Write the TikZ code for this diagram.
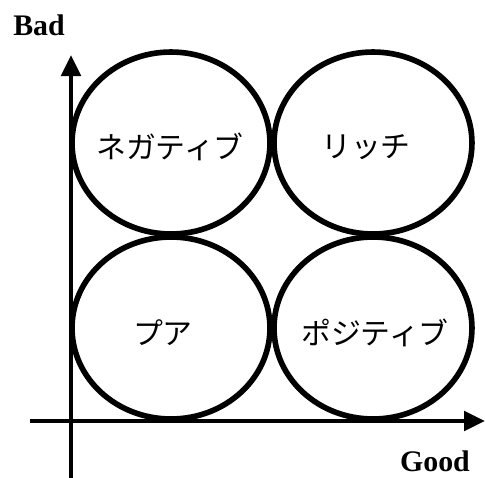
\documentclass[tikz,border=0pt]{standalone}
\usepackage{fontspec}
\setmainfont{Liberation Serif}
\newfontfamily\jpfont{Noto Sans CJK JP}
\usetikzlibrary{shapes.geometric, arrows.meta, positioning}

\begin{document}
\begin{tikzpicture}[
    x=0.02cm, y=-0.02cm,
    % Define styles
    quadrant/.style={
        draw=black,
        line width=3.2pt,
        ellipse,
        minimum width=3.96cm,
        minimum height=3.64cm,
        inner sep=0pt
    },
    qlabel/.style={
        font=\jpfont\fontsize{17}{19}\selectfont,
        text=black
    },
    axis/.style={
        -{Triangle[length=0.42cm, width=0.38cm]},
        line width=2.8pt,
        black
    },
    axislabel/.style={
        font=\fontsize{17}{20}\selectfont\bfseries,
        text=black
    }
]
\useasboundingbox (0,0) rectangle (485,478);

% ============================================================
% Quadrants
% ============================================================
\node[quadrant] (negative) at (171,143) {};
\node[quadrant] (rich) at (373,143) {};
\node[quadrant] (poor) at (171,328) {};
\node[quadrant] (positive) at (373,328) {};

\node[qlabel] (negative_text) at (170,147) {ネガティブ};
\node[qlabel] (rich_text) at (366,147) {リッチ};
\node[qlabel] (poor_text) at (163,333) {プア};
\node[qlabel] (positive_text) at (375,333) {ポジティブ};

% ============================================================
% Axes
% ============================================================
\coordinate (ybottom) at (71,478);
\coordinate (ytop) at (71,55);
\coordinate (xleft) at (30,421);
\coordinate (xright) at (485,421);

\draw[axis] (ybottom) -- (ytop);
\draw[axis] (xleft) -- (xright);

\node[axislabel] (bad) at (39,25) {Bad};
\node[axislabel] (good) at (435,461) {Good};

\end{tikzpicture}
\end{document}
